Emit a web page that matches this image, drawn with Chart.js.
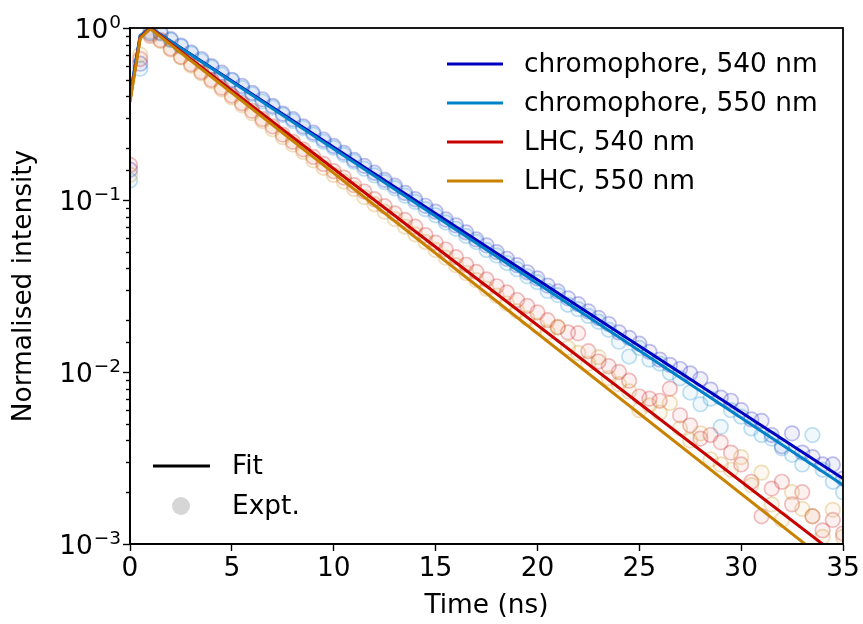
<!DOCTYPE html>
<html>
<head>
<meta charset="utf-8">
<script src="https://cdn.jsdelivr.net/npm/chart.js@4.4.1/dist/chart.umd.min.js"></script>
<style>
  html, body { margin: 0; padding: 0; background: #ffffff; }
  #wrap { width: 863px; height: 624px; }
</style>
</head>
<body>
<div id="wrap"><canvas id="c" width="863" height="624"></canvas></div>
<script>
// Measurement time grid (ns)
const time = [0,0.5,1,1.5,2,2.5,3,3.5,4,4.5,5,5.5,6,6.5,7,7.5,8,8.5,9,9.5,
  10,10.5,11,11.5,12,12.5,13,13.5,14,14.5,15,15.5,16,16.5,17,17.5,18,18.5,19,19.5,
  20,20.5,21,21.5,22,22.5,23,23.5,24,24.5,25,25.5,26,26.5,27,27.5,28,28.5,29,29.5,
  30,30.5,31,31.5,32,32.5,33,33.5,34,34.5,35];

// Measured normalised intensities
const exptChrom540 = [0.15,0.62,0.93,0.94,0.86,0.79,0.72,0.66,0.60,0.55,
  0.50,0.46,0.42,0.385,0.352,0.318,0.295,0.268,0.246,0.224,
  0.206,0.188,0.171,0.158,0.144,0.131,0.121,0.110,0.101,0.0925,
  0.0855,0.0770,0.0712,0.0648,0.0590,0.0545,0.0498,0.0455,0.0418,0.0380,
  0.0350,0.0318,0.0294,0.0268,0.0248,0.0225,0.0206,0.0190,0.0170,0.0158,
  0.0146,0.0131,0.0118,0.0110,0.0104,0.0098,0.0091,0.0079,0.0071,0.0068,
  0.0060,0.0053,0.0052,0.0043,0.0037,0.0044,0.0034,0.0032,0.0029,0.0029,
  0.0024];
const exptChrom550 = [0.13,0.58,0.95,0.93,0.85,0.78,0.71,0.645,0.59,0.535,
  0.495,0.448,0.412,0.374,0.345,0.312,0.288,0.262,0.240,0.218,
  0.201,0.183,0.167,0.152,0.139,0.127,0.117,0.106,0.0975,0.0885,
  0.0815,0.0740,0.0680,0.0618,0.0570,0.0512,0.0476,0.0430,0.0396,0.0360,
  0.0333,0.0296,0.0280,0.0246,0.0232,0.0212,0.0196,0.0176,0.0150,0.0123,
  0.0138,0.0118,0.0112,0.0099,0.0092,0.0076,0.0065,0.0070,0.0048,0.0060,
  0.0055,0.0047,0.0043,0.0041,0.0036,0.0033,0.0029,0.0043,0.0027,0.0023,
  0.0020];
const exptLhc540 = [0.16,0.66,0.90,0.85,0.76,0.68,0.615,0.555,0.50,0.45,
  0.405,0.365,0.330,0.296,0.268,0.240,0.218,0.197,0.178,0.162,
  0.147,0.135,0.122,0.112,0.101,0.0920,0.0835,0.0765,0.0700,0.0625,
  0.0565,0.0515,0.0465,0.0420,0.0382,0.0345,0.0315,0.0290,0.0262,0.0242,
  0.0222,0.0200,0.0182,0.0170,0.0168,0.0132,0.0115,0.0108,0.0100,0.0089,
  0.0072,0.0070,0.0068,0.0080,0.0056,0.0049,0.0041,0.0043,0.0039,0.0034,
  0.0029,0.0023,0.00145,0.0021,0.0023,0.0017,0.0020,0.00145,0.0012,0.00138,
  0.00115];
const exptLhc550 = [0.14,0.70,0.92,0.84,0.75,0.675,0.605,0.545,0.49,0.44,
  0.395,0.355,0.320,0.288,0.258,0.232,0.210,0.190,0.170,0.154,
  0.140,0.128,0.116,0.104,0.0945,0.0855,0.0775,0.0700,0.0632,0.0570,
  0.0512,0.0462,0.0418,0.0376,0.0342,0.0305,0.0278,0.0250,0.0226,0.0205,
  0.0186,0.0170,0.0182,0.0138,0.0129,0.0112,0.0122,0.0092,0.0085,0.0077,
  0.0060,0.0064,0.0058,0.0066,0.0047,0.0040,0.0044,0.0031,0.0029,0.0027,
  0.0032,0.0022,0.0026,0.0017,0.00138,0.0020,0.0016,0.00145,0.0011,0.00158,
  0.0011];

// Fitted curves (rise, peak, single-exponential tail)
const fitTime = [0, 0.5, 1, 35];
const fitChrom540 = [0.40, 0.90, 1.0, 0.0024];
const fitChrom550 = [0.40, 0.90, 1.0, 0.0022];
const fitLhc540 = [0.38, 0.88, 1.0, 0.00081];
const fitLhc550 = [0.37, 0.87, 0.99, 0.00067];

const seriesNames = ['chromophore, 540 nm', 'chromophore, 550 nm', 'LHC, 540 nm', 'LHC, 550 nm'];
const xTicks = [0, 5, 10, 15, 20, 25, 30, 35];

const seriesRGB = [[0, 0, 192], [0, 130, 200], [200, 0, 0], [200, 130, 0]];
const FONT = '"DejaVu Sans", "Liberation Sans", sans-serif';
const FS = 26.4;

const expt = [exptChrom540, exptChrom550, exptLhc540, exptLhc550];
const fits = [fitChrom540, fitChrom550, fitLhc540, fitLhc550];

const rgba = (c, a) => `rgba(${c[0]},${c[1]},${c[2]},${a})`;
const toPoints = (xs, ys) => xs.map((x, i) => ({ x: x, y: ys[i] }));

const datasets = [];
expt.forEach((ys, i) => {
  datasets.push({
    label: seriesNames[i] + ' (expt)',
    data: toPoints(time, ys),
    showLine: false,
    pointStyle: 'circle',
    pointRadius: 7.3,
    pointBorderWidth: 1.7,
    borderColor: rgba(seriesRGB[i], 0.25),
    backgroundColor: rgba(seriesRGB[i], 0.06),
    order: 20 - i
  });
});
fits.forEach((ys, i) => {
  datasets.push({
    label: seriesNames[i],
    data: toPoints(fitTime, ys),
    showLine: true,
    pointRadius: 0,
    borderWidth: 3,
    borderColor: rgba(seriesRGB[i], 1),
    backgroundColor: rgba(seriesRGB[i], 1),
    tension: 0,
    order: 4 - i
  });
});

// exponent of a decade tick, or null for the minor ticks in between
const decade = v => {
  const e = Math.round(Math.log10(v));
  return Math.abs(Math.log10(v) - e) > 1e-6 ? null : e;
};

// Frame, log-axis tick marks and labels (10 with a raised exponent), and the two legends
const decorations = {
  id: 'decorations',
  afterDraw(chart) {
    const ctx = chart.ctx;
    const area = chart.chartArea;
    const y = chart.scales.y;
    ctx.save();
    ctx.strokeStyle = '#000';
    ctx.lineWidth = 1.4;
    y.ticks.forEach(t => {
      const py = Math.round(y.getPixelForValue(t.value)) + 0.5;
      const e = decade(t.value);
      const len = e === null ? 4 : 7;
      ctx.beginPath();
      ctx.moveTo(area.left - len, py);
      ctx.lineTo(area.left, py);
      ctx.stroke();
      if (e !== null) {
        const expText = (e < 0 ? '\u2212' : '') + Math.abs(e);
        const supFont = (FS * 0.7).toFixed(1) + 'px ' + FONT;
        ctx.fillStyle = '#000';
        ctx.textBaseline = 'alphabetic';
        ctx.textAlign = 'right';
        ctx.font = supFont;
        const right = area.left - 9;
        const wSup = ctx.measureText(expText).width;
        ctx.fillText(expText, right, py - 1);
        ctx.font = FS + 'px ' + FONT;
        ctx.fillText('10', right - wSup - 1, py + 9.6);
      }
    });
    ctx.lineWidth = 1.8;
    ctx.strokeRect(area.left, area.top, area.right - area.left, area.bottom - area.top);

    // series legend (upper right)
    ctx.font = FS + 'px ' + FONT;
    ctx.textBaseline = 'middle';
    ctx.textAlign = 'left';
    const rowY = [64, 103, 142, 181];
    seriesNames.forEach((name, i) => {
      ctx.strokeStyle = rgba(seriesRGB[i], 1);
      ctx.lineWidth = 3;
      ctx.beginPath();
      ctx.moveTo(447, rowY[i]);
      ctx.lineTo(503, rowY[i]);
      ctx.stroke();
      ctx.fillStyle = '#000';
      ctx.fillText(name, 524, rowY[i] + 1);
    });

    // style legend (lower left)
    ctx.strokeStyle = '#000';
    ctx.lineWidth = 3;
    ctx.beginPath();
    ctx.moveTo(153, 466);
    ctx.lineTo(210, 466);
    ctx.stroke();
    ctx.fillStyle = '#d6d6d6';
    ctx.beginPath();
    ctx.arc(181, 506, 9, 0, Math.PI * 2);
    ctx.fill();
    ctx.fillStyle = '#000';
    ctx.fillText('Fit', 232, 467);
    ctx.fillText('Expt.', 232, 507);
    ctx.restore();
  }
};

new Chart(document.getElementById('c'), {
  type: 'scatter',
  data: { datasets: datasets },
  options: {
    responsive: false,
    animation: false,
    devicePixelRatio: 1,
    layout: { padding: { top: 28, right: 20, left: 0, bottom: 0 } },
    plugins: { legend: { display: false }, tooltip: { enabled: false } },
    scales: {
      x: {
        type: 'linear',
        min: 0,
        max: 35,
        afterBuildTicks: s => { s.ticks = xTicks.map(v => ({ value: v })); },
        ticks: { font: { family: FONT, size: FS }, color: '#000', padding: 2, maxRotation: 0, autoSkip: false },
        grid: { display: true, drawOnChartArea: false, color: '#000', tickLength: 7, tickWidth: 1.4 },
        border: { display: true, color: '#000', width: 1.8 },
        title: { display: true, text: 'Time (ns)', color: '#000', font: { family: FONT, size: FS }, padding: { top: 0, bottom: 2 } },
        afterFit: s => { s.height = 80; }
      },
      y: {
        type: 'logarithmic',
        min: 0.001,
        max: 1,
        ticks: { display: false },
        grid: { display: false },
        border: { display: true, color: '#000', width: 1.8 },
        title: { display: true, text: 'Normalised intensity', color: '#000', font: { family: FONT, size: FS }, padding: { top: 8, bottom: 0 } },
        afterFit: s => { s.width = 130; }
      }
    }
  },
  plugins: [decorations]
});
</script>
</body>
</html>
